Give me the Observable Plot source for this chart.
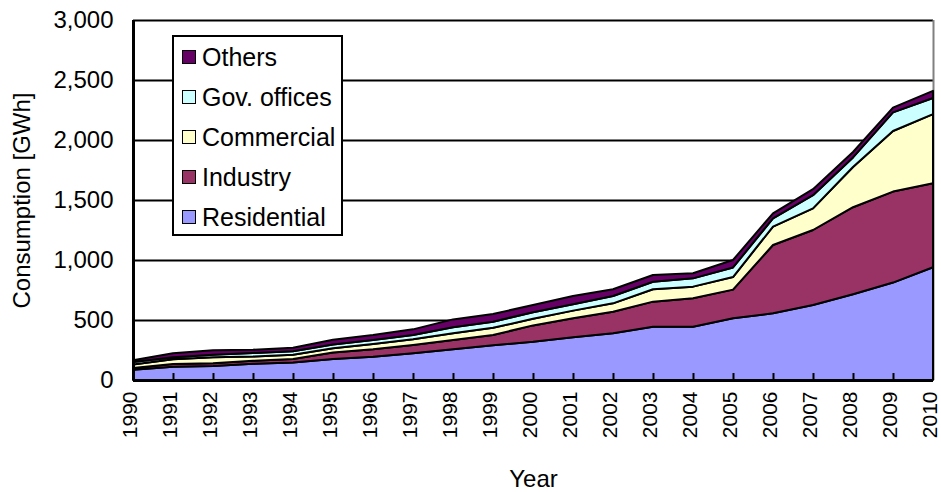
<!DOCTYPE html>
<html>
<head>
<meta charset="utf-8">
<script src="https://cdn.jsdelivr.net/npm/d3@7"></script>
<script src="https://cdn.jsdelivr.net/npm/@observablehq/plot@0.6"></script>
<style>
  html, body { margin: 0; padding: 0; background: white; }
  #wrap { position: relative; width: 941px; height: 492px; font-family: "Liberation Sans", Arial, sans-serif; }
  #legend { position: absolute; left: 172px; top: 35px; width: 167px; height: 197px; border: 2px solid black; background: white; }
  .item { position: absolute; left: 0; height: 30px; display: flex; align-items: center; font-size: 25px; color: black; }
  .sw { width: 12px; height: 12px; border: 1.5px solid black; margin-left: 8px; margin-right: 6px; }
</style>
</head>
<body>
<div id="wrap"></div>
<script>
const years = [1990,1991,1992,1993,1994,1995,1996,1997,1998,1999,2000,2001,2002,2003,2004,2005,2006,2007,2008,2009,2010];
const residential = [85,111,117,135,145,175,194,222,256,290,319,356,389,444,444,514,556,625,715,812,940];
const industry    = [15,22,22,25,30,55,62,70,77,85,136,158,180,209,237,239,569,625,725,758,700];
const commercial  = [30,39,50,35,35,35,44,47,56,60,55,64,70,103,97,105,153,180,335,505,575];
const govOffices  = [20,17,22,30,30,30,33,36,51,51,55,53,61,63,69,80,69,110,80,155,135];
const others      = [15,33,37,27,28,41,42,47,65,64,60,69,56,56,43,62,42,50,45,40,60];
const seriesNames = ["Residential","Industry","Commercial","Gov. offices","Others"];
const seriesColors = ["#9999FF","#993366","#FFFFCC","#CCFFFF","#660066"];
const gridValues = [500,1000,1500,2000,2500,3000];

const seriesValues = [residential, industry, commercial, govOffices, others];
const table = [];
seriesNames.forEach((name, i) => {
  years.forEach((yr, j) => table.push({year: yr, series: name, value: seriesValues[i][j]}));
});

const chart = Plot.plot({
  width: 941,
  height: 492,
  marginLeft: 133,
  marginRight: 8,
  marginTop: 20,
  marginBottom: 112,
  style: {fontFamily: '"Liberation Sans", Arial, sans-serif', fontSize: "24px", color: "black", background: "white", overflow: "visible"},
  x: {domain: [1990, 2010]},
  y: {domain: [0, 3000]},
  color: {domain: seriesNames, range: seriesColors},
  marks: [
    Plot.ruleY(gridValues, {stroke: "black", strokeWidth: 2}),
    Plot.ruleX([years[years.length - 1]], {stroke: "#808080", strokeWidth: 2}),
    Plot.areaY(table, {x: "year", y: "value", z: "series", fill: "series", order: seriesNames, stroke: "black", strokeWidth: 2, strokeLinejoin: "round"}),
    Plot.ruleY([0], {stroke: "black", strokeWidth: 3}),
    Plot.ruleX([years[0]], {stroke: "black", strokeWidth: 3}),
    Plot.tickX(years.slice(1, -1), {x: d => d, insetTop: 353, stroke: "black", strokeWidth: 2}),
    Plot.axisY({ticks: [0, ...gridValues], tickFormat: d3.format(","), tickSize: 0, tickPadding: 20, fontSize: 24,
      label: "Consumption [GWh]", labelAnchor: "center", labelOffset: 121, labelArrow: "none"}),
    Plot.axisX({ticks: years, tickFormat: d => String(d), tickRotate: -90, tickSize: 0, tickPadding: 11, fontSize: 21, dx: -3,
      label: null}),
    Plot.axisX({ticks: [], tickSize: 0, label: "Year", labelAnchor: "center", labelOffset: 106, labelArrow: "none", fontSize: 24})
  ]
});

const wrap = document.getElementById("wrap");
wrap.appendChild(chart);

const legend = document.createElement("div");
legend.id = "legend";
const legendOrder = seriesNames.slice().reverse();
const colorOf = Object.fromEntries(seriesNames.map((n, i) => [n, seriesColors[i]]));
legendOrder.forEach((name, i) => {
  const item = document.createElement("div");
  item.className = "item";
  item.style.top = (5 + i * 40) + "px";
  const sw = document.createElement("div");
  sw.className = "sw";
  sw.style.background = colorOf[name];
  const tx = document.createElement("span");
  tx.textContent = name;
  item.appendChild(sw);
  item.appendChild(tx);
  legend.appendChild(item);
});
wrap.appendChild(legend);
</script>
</body>
</html>
